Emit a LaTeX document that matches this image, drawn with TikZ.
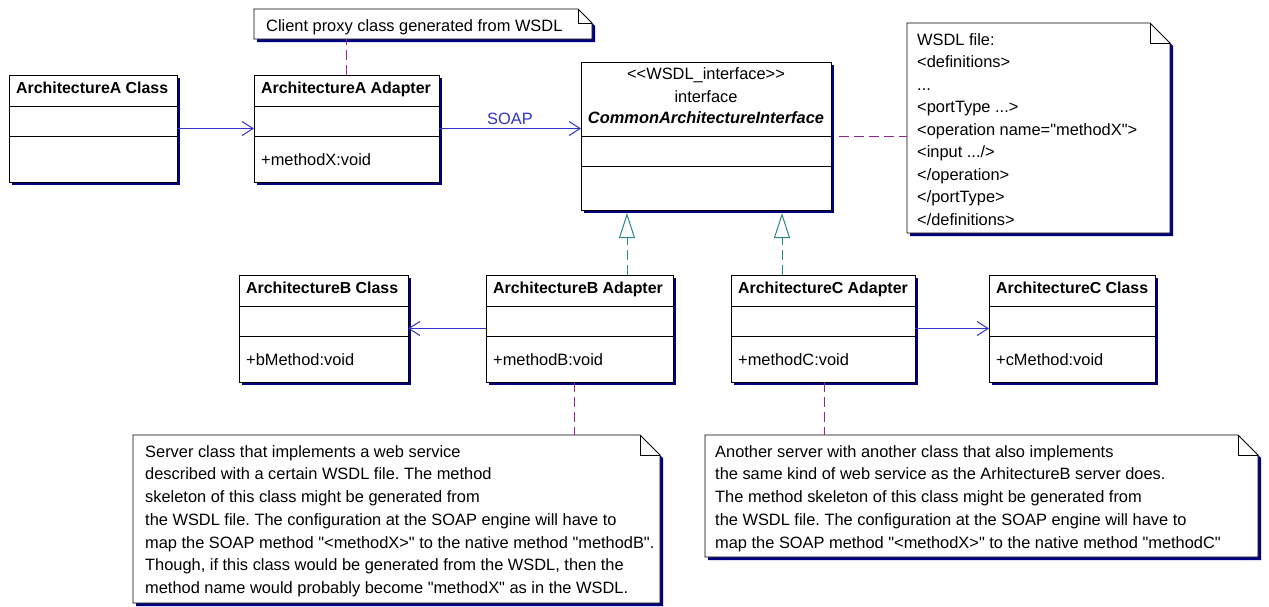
\documentclass[tikz,border=0pt]{standalone}
\usepackage{fontspec}
\setmainfont{Liberation Sans}[Ligatures=TeXOff]
\usetikzlibrary{arrows.meta,shadows}
\definecolor{navy}{RGB}{0,0,128}
\definecolor{assoc}{RGB}{50,50,205}
\definecolor{realz}{RGB}{40,135,135}
\definecolor{notelink}{RGB}{145,40,145}
\frenchspacing
\newcommand\titlefont{\fontsize{15.9}{22.7}\selectfont\bfseries}

\newcommand\classbox[6]{%
  \node[umlbox, minimum width=#4, minimum height=107] (#1) at (#2,#3) {};
  \draw[sepline] ([yshift=-31pt]#1.north west) -- ([yshift=-31pt]#1.north east);
  \draw[sepline] ([yshift=-61pt]#1.north west) -- ([yshift=-61pt]#1.north east);
  \node[txt] (#1-t) at ([xshift=7pt,yshift=-18pt]#1.north west) {\titlefont #5};
  \node[txt] (#1-m) at ([xshift=7pt,yshift=-90pt]#1.north west) {#6};
}
\newcommand\notebox[6]{%
  \fill[navy, shift={(3,3)}] (#2,#3) -- (#4-#6,#3) -- (#4,#3+#6) -- (#4,#5) -- (#2,#5) -- cycle;
  \draw[black, fill=white, line width=0.9pt] (#2,#3) -- (#4-#6,#3) -- (#4,#3+#6) -- (#4,#5) -- (#2,#5) -- cycle;
  \draw[black, line width=0.9pt] (#4-#6,#3) -- (#4-#6,#3+#6) -- (#4,#3+#6);
  \node[inner sep=0pt, outer sep=0pt, minimum width=#4-#2, minimum height=#5-#3, anchor=north west] (#1) at (#2,#3) {};
}

\begin{document}
\begin{tikzpicture}[x=1pt,y=-1pt,
  font=\fontsize{16.4}{22.7}\selectfont,
  umlbox/.style={draw=black, fill=white, line width=0.9pt, inner sep=0pt, outer sep=0pt, anchor=north west,
     general shadow={fill=navy, shadow xshift=3pt, shadow yshift=-3pt}},
  sepline/.style={black, line width=0.9pt},
  txt/.style={anchor=base west, inner sep=0pt},
  notetxt/.style={anchor=north west, inner sep=0pt, align=left},
  assocline/.style={assoc, line width=1pt, -{Straight Barb[length=11pt, width=14pt, line width=1pt]}},
  realline/.style={realz, line width=1pt, dash pattern=on 10pt off 5pt,
     -{Triangle[open, fill=white, length=25pt, width=16pt, line width=1pt]}},
  noteline/.style={notelink, line width=1pt, dash pattern=on 10pt off 5pt},
]
\fill[white] (0,0) rectangle (1269,606);
\useasboundingbox (0,0) rectangle (1269,606);

% class boxes
\classbox{acls}{9}{75}{168}{ArchitectureA Class}{}
\classbox{aad}{254}{75}{185}{ArchitectureA Adapter}{+methodX:void}
\classbox{bcls}{239}{275}{169}{ArchitectureB Class}{+bMethod:void}
\classbox{bad}{486}{275}{187}{ArchitectureB Adapter}{+methodB:void}
\classbox{cad}{731}{275}{184}{ArchitectureC Adapter}{+methodC:void}
\classbox{ccls}{989}{275}{166}{ArchitectureC Class}{+cMethod:void}

% interface
\node[umlbox, minimum width=250, minimum height=148] (iface) at (581,62) {};
\draw[sepline] ([yshift=-74pt]iface.north west) -- ([yshift=-74pt]iface.north east);
\draw[sepline] ([yshift=-104pt]iface.north west) -- ([yshift=-104pt]iface.north east);
\node[anchor=base, inner sep=0pt] (iface-s) at ([yshift=-17pt]iface.north) {<\kern0pt<WSDL\_interface>\kern0pt>};
\node[anchor=base, inner sep=0pt] (iface-k) at ([yshift=-40pt]iface.north) {interface};
\node[anchor=base, inner sep=0pt] (iface-n) at ([yshift=-61pt]iface.north) {\bfseries\itshape CommonArchitectureInterface};

% notes
\notebox{cnote}{254}{9}{592}{39}{14}
\node[txt] (cnote-t) at (266,31) {Client proxy class generated from WSDL};

\notebox{wnote}{907}{23}{1170}{233}{20}
\node[notetxt, font=\fontsize{16.4}{22.5}\selectfont] (wnote-t) at (917,45-15.75)
 {\strut WSDL file:\\ <definitions>\\ ...\\ <portType ...>\\ <operation name="methodX">\\ <input .../>\\ </operation>\\ </portType>\\ </definitions>};

\notebox{bnote}{133}{435}{660}{603}{20}
\node[notetxt] (bnote-t) at (145,457-15.89)
 {\strut Server class that implements a web service\\
  described with a certain WSDL file. The method\\
  skeleton of this class might be generated from\\
  the WSDL file. The configuration at the SOAP engine will have to\\
  map the SOAP method "<methodX>" to the native method "methodB".\\
  Though, if this class would be generated from the WSDL, then the\\
  method name would probably become "methodX" as in the WSDL.};

\notebox{cnote2}{705}{435}{1258}{557}{20}
\node[notetxt] (cnote2-t) at (715,457-15.89)
 {\strut Another server with another class that also implements\\
  the same kind of web service as the ArhitectureB server does.\\
  The method skeleton of this class might be generated from\\
  the WSDL file. The configuration at the SOAP engine will have to\\
  map the SOAP method "<methodX>" to the native method "methodC"};

% associations
\draw[assocline] (acls.east) -- (aad.west);
\draw[assocline] (aad.east) -- (aad.east -| iface.west) node[midway, above=3pt, assoc, inner sep=0pt] (soap) {SOAP};
\draw[assocline] (bad.west) -- (bcls.east);
\draw[assocline] (cad.east) -- (ccls.west);

% realizations
\draw[realline] ([xshift=47.5pt]bad.north) -- ([xshift=47.5pt,yshift=-3pt]bad.north |- iface.south);
\draw[realline] ([xshift=-41pt]cad.north) -- ([xshift=-41pt,yshift=-3pt]cad.north |- iface.south);

% note links
\draw[noteline] (aad.north) -- (aad.north |- cnote.south);
\draw[noteline] ([xshift=8pt]iface.east) -- (iface.east -| wnote.west);
\draw[noteline] ([xshift=-5.5pt]bad.south) -- ([xshift=-5.5pt]bad.south |- bnote.north);
\draw[noteline] ([xshift=1pt]cad.south) -- ([xshift=1pt]cad.south |- cnote2.north);
\end{tikzpicture}
\end{document}
